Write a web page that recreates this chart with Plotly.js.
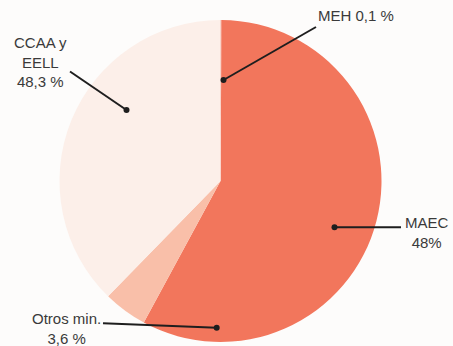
<!DOCTYPE html>
<html>
<head>
<meta charset="utf-8">
<script src="https://cdn.plot.ly/plotly-3.0.1.min.js"></script>
<style>html,body{margin:0;padding:0;background:#fdfcfb;}#chart{width:453px;height:346px;}</style>
</head>
<body>
<div id="chart"></div>
<script>
// Categories in clockwise order starting at 12 o'clock
const categories = ["MEH", "MAEC", "Otros min.", "CCAA y EELL"];
// Slice sizes as drawn in the picture (angles)
const sliceValues = [0.1, 57.8, 4.4, 37.7];
// Printed labels
const labelTexts = ["MEH 0,1 %", "MAEC<br>48%", "Otros min.<br>3,6 %", "CCAA y<br>EELL<br>48,3 %"];
const sliceColors = ["#f2765c", "#f2765c", "#f9bfa9", "#fcefe9"];

const W = 453, H = 346;
const px = x => x / W;
const py = y => 1 - y / H;

// label anchor (text) positions and leader lines, in pixels
const labelPos = [[356, 16], [427, 232], [66, 328], [40, 62]];
const leaders = [
  [[316, 27], [223.5, 80]],
  [[401, 227.3], [334.5, 227.3]],
  [[103, 323.3], [216.7, 327.7]],
  [[70, 71.5], [126.5, 110]]
];

const shapes = [];
leaders.forEach(l => {
  shapes.push({type: 'line', xref: 'paper', yref: 'paper',
    x0: px(l[0][0]), y0: py(l[0][1]), x1: px(l[1][0]), y1: py(l[1][1]),
    line: {color: '#1e1e1e', width: 2}});
  const r = 3;
  shapes.push({type: 'circle', xref: 'paper', yref: 'paper',
    x0: px(l[1][0] - r), x1: px(l[1][0] + r), y0: py(l[1][1] + r), y1: py(l[1][1] - r),
    fillcolor: '#1e1e1e', line: {width: 0}});
});

const annotations = labelTexts.map((t, i) => ({
  text: t, xref: 'paper', yref: 'paper',
  x: px(labelPos[i][0]), y: py(labelPos[i][1]),
  xanchor: 'center', yanchor: 'middle', showarrow: false, align: 'center',
  font: {family: 'Liberation Sans, Arial, sans-serif', size: 15, color: '#3a3a3a'}
}));

const data = [{
  type: 'pie',
  labels: categories,
  values: sliceValues,
  sort: false,
  direction: 'clockwise',
  rotation: 0,
  textinfo: 'none',
  hoverinfo: 'label+percent',
  marker: {colors: sliceColors, line: {width: 0}},
  domain: {x: [59.5 / W, 381.5 / W], y: [1 - 342 / H, 1 - 20 / H]},
  showlegend: false
}];

const layout = {
  width: W, height: H,
  margin: {l: 0, r: 0, t: 0, b: 0},
  paper_bgcolor: '#fdfcfb',
  plot_bgcolor: '#fdfcfb',
  showlegend: false,
  shapes: shapes,
  annotations: annotations
};

Plotly.newPlot('chart', data, layout, {displayModeBar: false, staticPlot: true});
</script>
</body>
</html>
